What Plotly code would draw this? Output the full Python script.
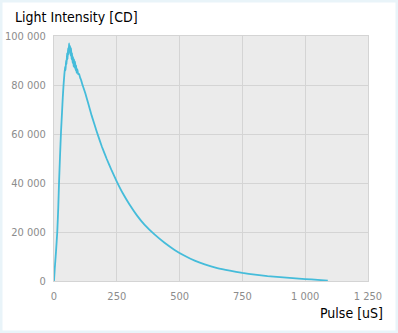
import plotly.graph_objects as go

# Pulse time (µs) and measured light intensity (cd)
pulse_us = [
    0, 3, 8, 13, 17, 20, 24, 28, 32, 35, 38, 41, 44, 46, 48, 50, 52, 54, 56, 58,
    60, 62, 64, 66, 68, 70, 72, 74, 76, 78, 80, 82, 84, 86, 88, 90, 93, 96, 100,
    104, 108, 112, 117, 125, 135, 150, 170, 190, 210, 230, 250, 275, 300, 330,
    360, 400, 440, 480, 520, 560, 600, 650, 700, 750, 800, 850, 900, 950, 1000,
    1050, 1090,
]
intensity_cd = [
    0, 5000, 12000, 20000, 30000, 40000, 51000, 61000, 69000, 75000, 80000,
    84000, 87500, 86000, 90000, 88500, 93000, 90500, 95000, 92500, 97000, 93500,
    96000, 92000, 95000, 90500, 93000, 89000, 91500, 87500, 90500, 87000, 89500,
    86000, 88000, 85000, 86500, 84500, 84500, 83000, 82000, 80500, 79000, 76500,
    73000, 67500, 61000, 55000, 49800, 45000, 40600, 35600, 31300, 26800, 23000,
    19000, 15600, 12700, 10300, 8300, 6800, 5300, 4200, 3300, 2600, 2000, 1550,
    1150, 800, 450, 150,
]

x_ticks = [0, 250, 500, 750, 1000, 1250]
x_tick_labels = ["0", "250", "500", "750", "1 000", "1 250"]
y_ticks = [0, 20000, 40000, 60000, 80000, 100000]
y_tick_labels = ["0", "20 000", "40 000", "60 000", "80 000", "100 000"]

W, H = 398, 333
ML, MR, MT, MB = 54, 30, 36, 52
PW, PH = W - ML - MR, H - MT - MB

narrow = "Liberation Sans Narrow, Arial Narrow, DejaVu Sans Condensed, sans-serif"
grid = "#d4d4d4"
tick_font = dict(family=narrow, size=11, color="#8c8c8c")
label_font = dict(family=narrow, size=14, color="#000000")

axis_common = dict(
    showgrid=True,
    gridcolor=grid,
    gridwidth=1,
    zeroline=False,
    showline=True,
    mirror=True,
    linecolor=grid,
    linewidth=1,
    ticks="",
    automargin=False,
    tickfont=tick_font,
)

fig = go.Figure(
    go.Scatter(
        x=pulse_us,
        y=intensity_cd,
        mode="lines",
        line=dict(color="#45bcda", width=1.8, shape="spline", smoothing=0.3),
        hoverinfo="x+y",
    )
)

fig.update_layout(
    width=W,
    height=H,
    margin=dict(l=ML, r=MR, t=MT, b=MB, pad=0),
    paper_bgcolor="white",
    plot_bgcolor="#ebebeb",
    showlegend=False,
    font=dict(family=narrow, size=11, color="#8c8c8c"),
    xaxis=dict(
        range=[0, 1250],
        tickvals=x_ticks,
        ticktext=x_tick_labels,
        ticklabelstandoff=5,
        **axis_common,
    ),
    yaxis=dict(
        range=[0, 100000],
        tickvals=y_ticks,
        ticktext=y_tick_labels,
        ticklabelstandoff=5,
        **axis_common,
    ),
    annotations=[
        dict(
            text="Light Intensity [CD]",
            xref="paper", yref="paper",
            x=-(ML - 13) / PW, y=1 + (MT - 17) / PH,
            xanchor="left", yanchor="middle",
            showarrow=False,
            font=label_font,
        ),
        dict(
            text="Pulse [uS]",
            xref="paper", yref="paper",
            x=1 + (MR - 13) / PW, y=-32 / PH,
            xanchor="right", yanchor="middle",
            showarrow=False,
            font=label_font,
        ),
    ],
    shapes=[
        dict(
            type="rect", xref="paper", yref="paper",
            x0=-ML / PW, x1=1 + MR / PW,
            y0=-MB / PH, y1=1 + MT / PH,
            line=dict(color="#e9f4f9", width=5),
            fillcolor="rgba(0,0,0,0)",
            layer="above",
        )
    ],
)

fig.write_html("out.html")
